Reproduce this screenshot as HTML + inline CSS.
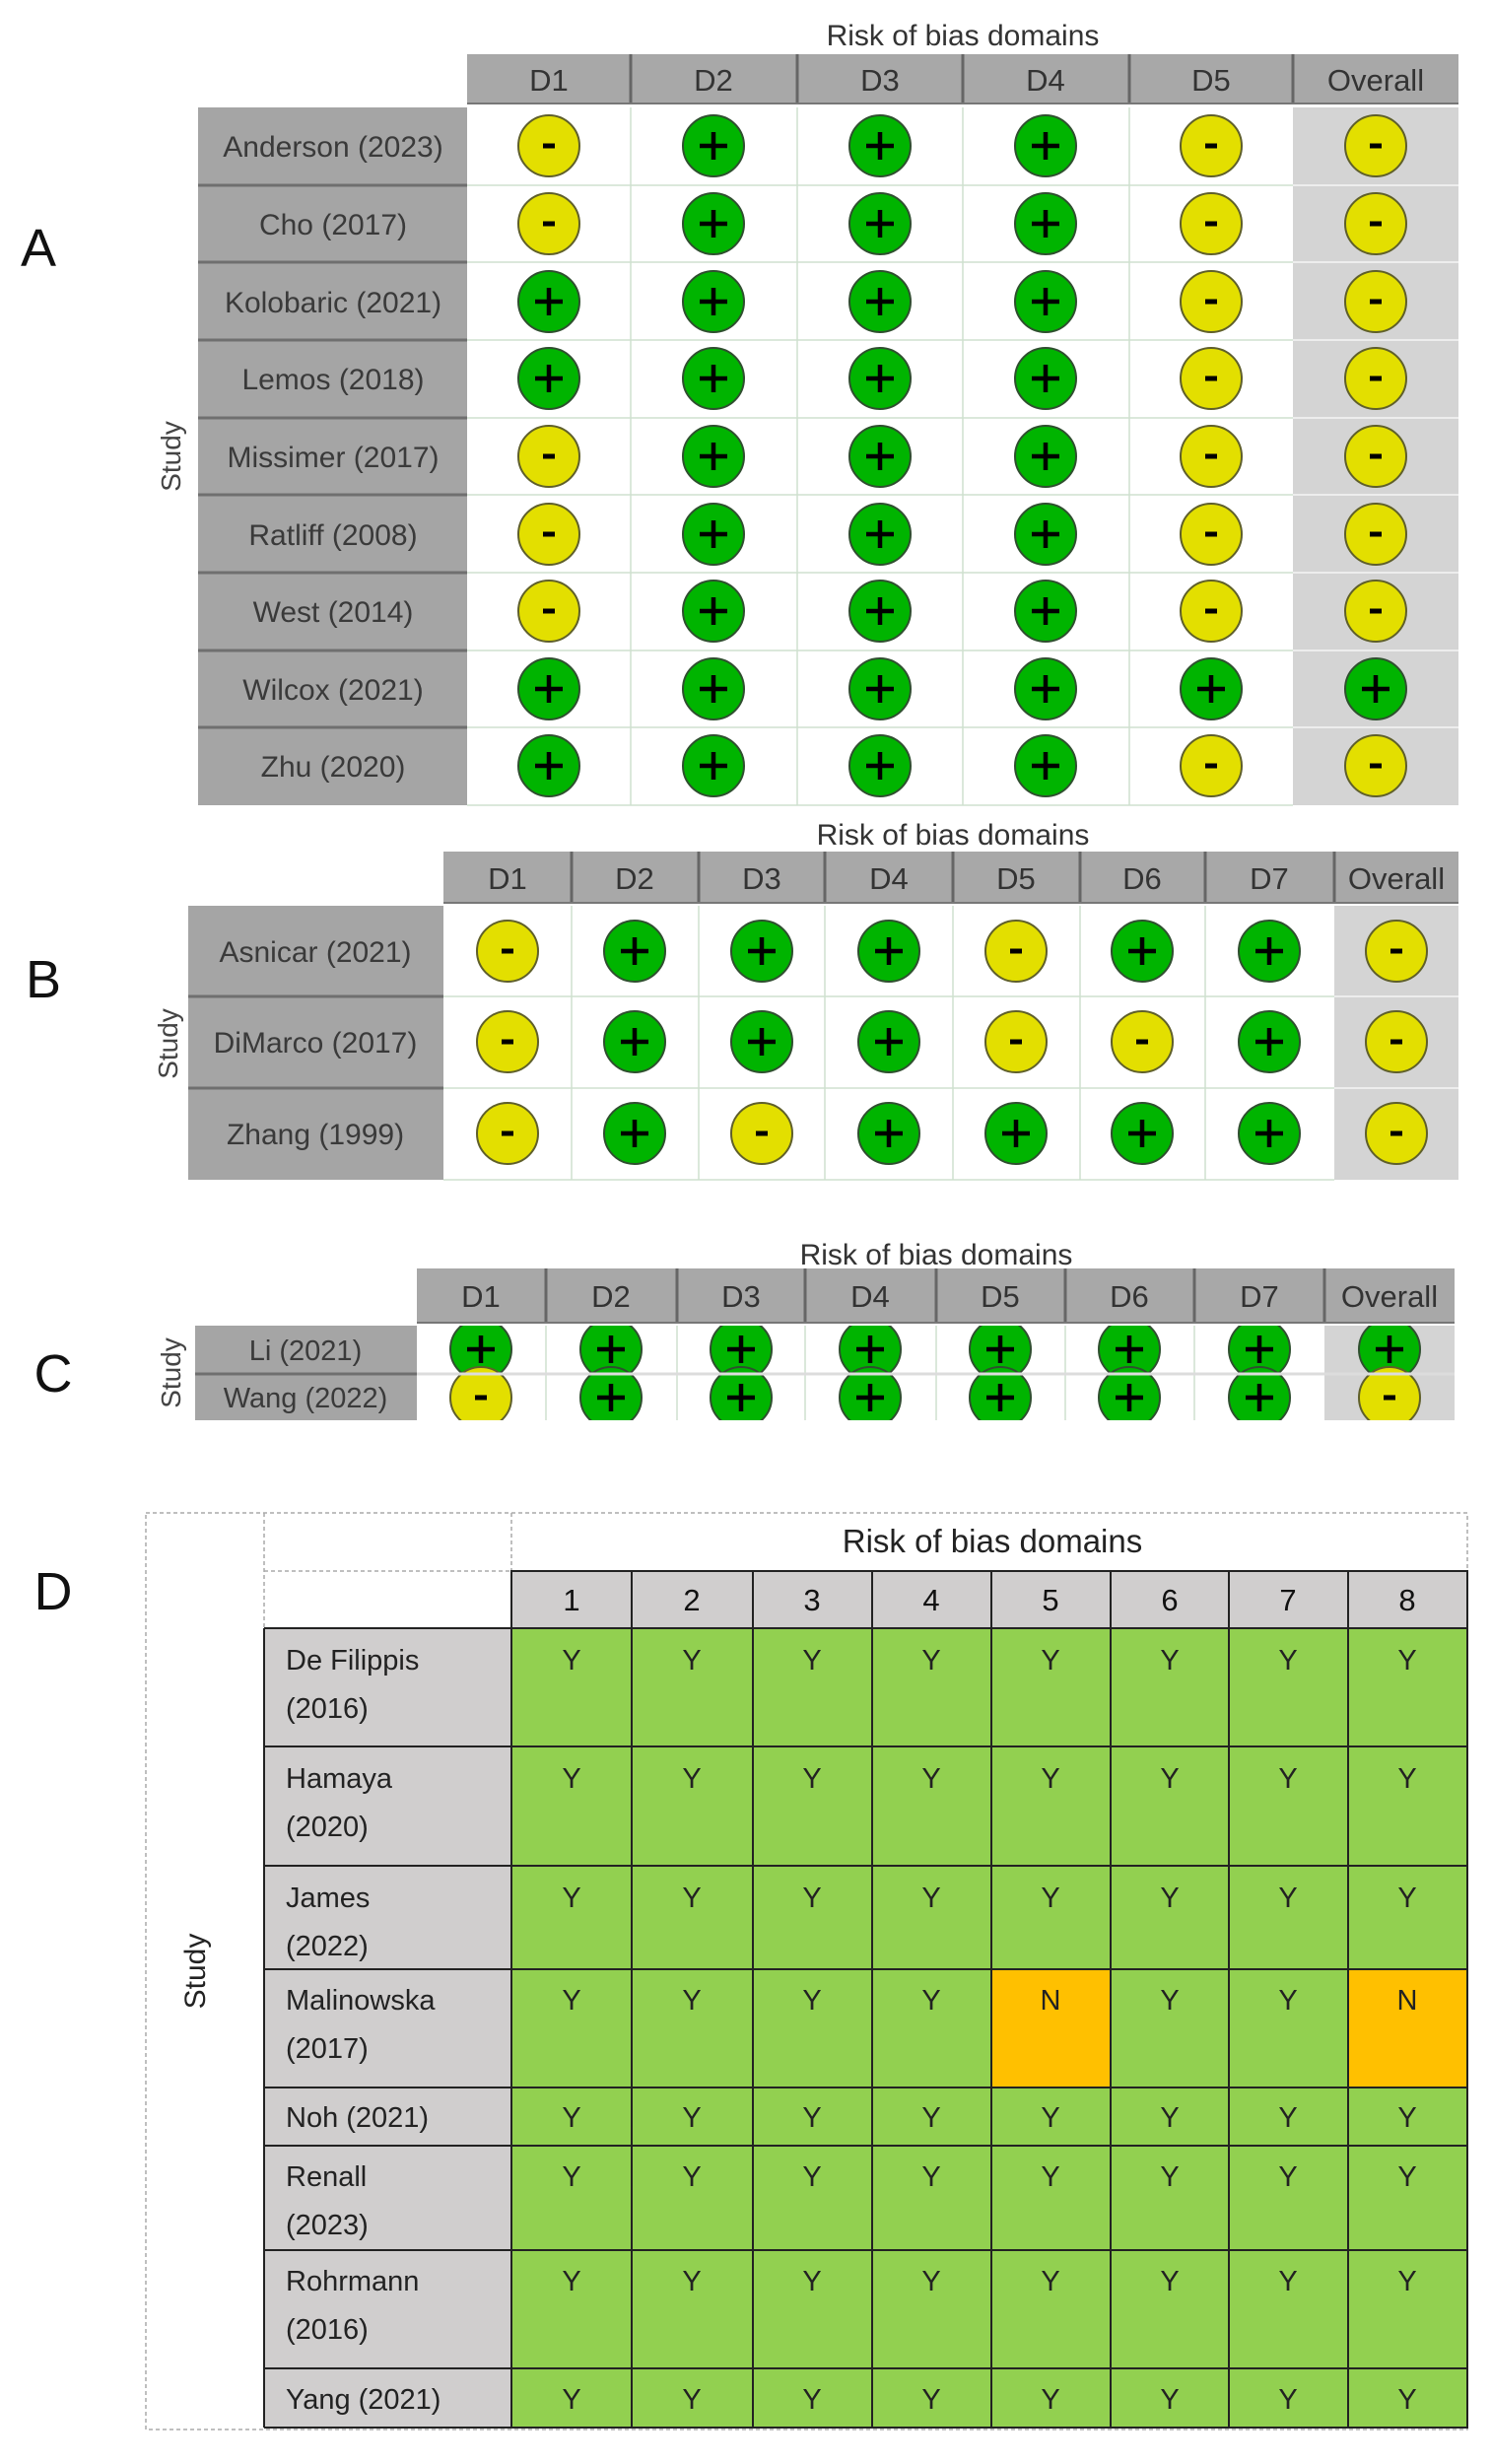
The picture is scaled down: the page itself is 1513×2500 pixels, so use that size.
<!DOCTYPE html>
<html><head><meta charset="utf-8"><style>html,body{margin:0;padding:0;background:#fff}svg{display:block}</style></head>
<body>
<svg width="1513" height="2500" viewBox="0 0 1513 2500" xmlns="http://www.w3.org/2000/svg" font-family="Liberation Sans, sans-serif">
<defs>
<g id="p"><circle r="31" fill="#00b400" stroke="#2f4f2f" stroke-width="2"/><path d="M-14 0H14M0-14V14" stroke="#000" stroke-width="4.5"/></g>
<g id="m"><circle r="31" fill="#e3df00" stroke="#5f5f2a" stroke-width="2"/><path d="M-6 0H6" stroke="#000" stroke-width="5"/></g>
<clipPath id="cc"><rect x="423" y="1345" width="1055" height="96"/></clipPath>
</defs>

<!-- Panel letters -->
<g font-size="54" fill="#111">
<text x="39" y="270" text-anchor="middle">A</text>
<text x="44" y="1012" text-anchor="middle">B</text>
<text x="54" y="1412" text-anchor="middle">C</text>
<text x="54" y="1633" text-anchor="middle">D</text>
</g>

<!-- ============ PANEL A ============ -->
<text x="977" y="46" font-size="30" fill="#333" text-anchor="middle">Risk of bias domains</text>
<rect x="474" y="55" width="1006" height="51" fill="#a8a8a8"/>
<g stroke="#666" stroke-width="3"><path d="M640 55V106M809 55V106M977 55V106M1146 55V106M1312 55V106"/></g>
<rect x="474" y="104" width="1006" height="2" fill="#777"/>
<g font-size="31" fill="#333" text-anchor="middle">
<text x="557" y="92">D1</text><text x="724" y="92">D2</text><text x="893" y="92">D3</text><text x="1061" y="92">D4</text><text x="1229" y="92">D5</text><text x="1396" y="92">Overall</text>
</g>
<rect x="1312" y="109" width="168" height="708" fill="#d4d4d4"/>
<g stroke="#cfe0cf" stroke-width="1.5"><path d="M640 109V817M809 109V817M977 109V817M1146 109V817M474 188H1312M474 266H1312M474 345H1312M474 424H1312M474 502H1312M474 581H1312M474 660H1312M474 738H1312M474 817H1312"/></g>
<g stroke="#ededed" stroke-width="2"><path d="M1312 188H1480M1312 266H1480M1312 345H1480M1312 424H1480M1312 502H1480M1312 581H1480M1312 660H1480M1312 738H1480"/></g>
<rect x="201" y="109" width="273" height="708" fill="#a5a5a5"/>
<g stroke="#6f6f6f" stroke-width="3"><path d="M201 188H474M201 266H474M201 345H474M201 424H474M201 502H474M201 581H474M201 660H474M201 738H474"/></g>
<g font-size="30" fill="#3a3a3a" text-anchor="middle">
<text x="338" y="159">Anderson (2023)</text>
<text x="338" y="238">Cho (2017)</text>
<text x="338" y="317">Kolobaric (2021)</text>
<text x="338" y="395">Lemos (2018)</text>
<text x="338" y="474">Missimer (2017)</text>
<text x="338" y="553">Ratliff (2008)</text>
<text x="338" y="631">West (2014)</text>
<text x="338" y="710">Wilcox (2021)</text>
<text x="338" y="788">Zhu (2020)</text>
</g>
<text transform="translate(183,463) rotate(-90)" font-size="28" fill="#444" text-anchor="middle">Study</text>
<!-- rows A: cols 557,724,893,1061,1229,1396 -->
<use href="#m" x="557" y="148"/><use href="#p" x="724" y="148"/><use href="#p" x="893" y="148"/><use href="#p" x="1061" y="148"/><use href="#m" x="1229" y="148"/><use href="#m" x="1396" y="148"/>
<use href="#m" x="557" y="227"/><use href="#p" x="724" y="227"/><use href="#p" x="893" y="227"/><use href="#p" x="1061" y="227"/><use href="#m" x="1229" y="227"/><use href="#m" x="1396" y="227"/>
<use href="#p" x="557" y="306"/><use href="#p" x="724" y="306"/><use href="#p" x="893" y="306"/><use href="#p" x="1061" y="306"/><use href="#m" x="1229" y="306"/><use href="#m" x="1396" y="306"/>
<use href="#p" x="557" y="384"/><use href="#p" x="724" y="384"/><use href="#p" x="893" y="384"/><use href="#p" x="1061" y="384"/><use href="#m" x="1229" y="384"/><use href="#m" x="1396" y="384"/>
<use href="#m" x="557" y="463"/><use href="#p" x="724" y="463"/><use href="#p" x="893" y="463"/><use href="#p" x="1061" y="463"/><use href="#m" x="1229" y="463"/><use href="#m" x="1396" y="463"/>
<use href="#m" x="557" y="542"/><use href="#p" x="724" y="542"/><use href="#p" x="893" y="542"/><use href="#p" x="1061" y="542"/><use href="#m" x="1229" y="542"/><use href="#m" x="1396" y="542"/>
<use href="#m" x="557" y="620"/><use href="#p" x="724" y="620"/><use href="#p" x="893" y="620"/><use href="#p" x="1061" y="620"/><use href="#m" x="1229" y="620"/><use href="#m" x="1396" y="620"/>
<use href="#p" x="557" y="699"/><use href="#p" x="724" y="699"/><use href="#p" x="893" y="699"/><use href="#p" x="1061" y="699"/><use href="#p" x="1229" y="699"/><use href="#p" x="1396" y="699"/>
<use href="#p" x="557" y="777"/><use href="#p" x="724" y="777"/><use href="#p" x="893" y="777"/><use href="#p" x="1061" y="777"/><use href="#m" x="1229" y="777"/><use href="#m" x="1396" y="777"/>

<!-- ============ PANEL B ============ -->
<text x="967" y="857" font-size="30" fill="#333" text-anchor="middle">Risk of bias domains</text>
<rect x="450" y="864" width="1030" height="53" fill="#a8a8a8"/>
<g stroke="#666" stroke-width="3"><path d="M580 864V917M709 864V917M837 864V917M967 864V917M1096 864V917M1223 864V917M1354 864V917"/></g>
<rect x="450" y="915" width="1030" height="2" fill="#777"/>
<g font-size="31" fill="#333" text-anchor="middle">
<text x="515" y="902">D1</text><text x="644" y="902">D2</text><text x="773" y="902">D3</text><text x="902" y="902">D4</text><text x="1031" y="902">D5</text><text x="1159" y="902">D6</text><text x="1288" y="902">D7</text><text x="1417" y="902">Overall</text>
</g>
<rect x="1354" y="919" width="126" height="278" fill="#d4d4d4"/>
<g stroke="#cfe0cf" stroke-width="1.5"><path d="M580 919V1197M709 919V1197M837 919V1197M967 919V1197M1096 919V1197M1223 919V1197M450 1011H1354M450 1104H1354M450 1197H1354"/></g>
<g stroke="#ededed" stroke-width="2"><path d="M1354 1011H1480M1354 1104H1480"/></g>
<rect x="191" y="919" width="259" height="278" fill="#a5a5a5"/>
<g stroke="#6f6f6f" stroke-width="3"><path d="M191 1011H450M191 1104H450"/></g>
<g font-size="30" fill="#3a3a3a" text-anchor="middle">
<text x="320" y="976">Asnicar (2021)</text>
<text x="320" y="1068">DiMarco (2017)</text>
<text x="320" y="1161">Zhang (1999)</text>
</g>
<text transform="translate(180,1059) rotate(-90)" font-size="28" fill="#444" text-anchor="middle">Study</text>
<use href="#m" x="515" y="965"/><use href="#p" x="644" y="965"/><use href="#p" x="773" y="965"/><use href="#p" x="902" y="965"/><use href="#m" x="1031" y="965"/><use href="#p" x="1159" y="965"/><use href="#p" x="1288" y="965"/><use href="#m" x="1417" y="965"/>
<use href="#m" x="515" y="1057"/><use href="#p" x="644" y="1057"/><use href="#p" x="773" y="1057"/><use href="#p" x="902" y="1057"/><use href="#m" x="1031" y="1057"/><use href="#m" x="1159" y="1057"/><use href="#p" x="1288" y="1057"/><use href="#m" x="1417" y="1057"/>
<use href="#m" x="515" y="1150"/><use href="#p" x="644" y="1150"/><use href="#m" x="773" y="1150"/><use href="#p" x="902" y="1150"/><use href="#p" x="1031" y="1150"/><use href="#p" x="1159" y="1150"/><use href="#p" x="1288" y="1150"/><use href="#m" x="1417" y="1150"/>

<!-- ============ PANEL C ============ -->
<text x="950" y="1283" font-size="30" fill="#333" text-anchor="middle">Risk of bias domains</text>
<rect x="423" y="1287" width="1053" height="56" fill="#a8a8a8"/>
<g stroke="#666" stroke-width="3"><path d="M554 1287V1343M687 1287V1343M817 1287V1343M950 1287V1343M1081 1287V1343M1212 1287V1343M1344 1287V1343"/></g>
<rect x="423" y="1341" width="1053" height="2" fill="#777"/>
<g font-size="31" fill="#333" text-anchor="middle">
<text x="488" y="1326">D1</text><text x="620" y="1326">D2</text><text x="752" y="1326">D3</text><text x="883" y="1326">D4</text><text x="1015" y="1326">D5</text><text x="1146" y="1326">D6</text><text x="1278" y="1326">D7</text><text x="1410" y="1326">Overall</text>
</g>
<rect x="1344" y="1345" width="132" height="96" fill="#d4d4d4"/>
<g stroke="#cfe0cf" stroke-width="1.5"><path d="M554 1345V1441M687 1345V1441M817 1345V1441M950 1345V1441M1081 1345V1441M1212 1345V1441"/></g>
<rect x="198" y="1345" width="225" height="96" fill="#a5a5a5"/>
<g stroke="#6f6f6f" stroke-width="3"><path d="M198 1394H423"/></g>
<g font-size="29" fill="#3a3a3a" text-anchor="middle">
<text x="310" y="1380">Li (2021)</text>
<text x="310" y="1428">Wang (2022)</text>
</g>
<text transform="translate(183,1393) rotate(-90)" font-size="28" fill="#444" text-anchor="middle">Study</text>
<g clip-path="url(#cc)">
<use href="#p" x="488" y="1369"/><use href="#p" x="620" y="1369"/><use href="#p" x="752" y="1369"/><use href="#p" x="883" y="1369"/><use href="#p" x="1015" y="1369"/><use href="#p" x="1146" y="1369"/><use href="#p" x="1278" y="1369"/><use href="#p" x="1410" y="1369"/>
<use href="#m" x="488" y="1418"/><use href="#p" x="620" y="1418"/><use href="#p" x="752" y="1418"/><use href="#p" x="883" y="1418"/><use href="#p" x="1015" y="1418"/><use href="#p" x="1146" y="1418"/><use href="#p" x="1278" y="1418"/><use href="#m" x="1410" y="1418"/>
<path d="M423 1394H1476" stroke="#dcdcdc" stroke-width="3"/>
</g>

<!-- ============ PANEL D ============ -->
<g fill="none" stroke="#aaa" stroke-width="1.5" stroke-dasharray="4 3">
<rect x="148" y="1535" width="1341" height="930"/>
<path d="M268 1535V2465M268 1594H519M519 1535V1594"/>
</g>
<text x="1007" y="1575" font-size="33" fill="#222" text-anchor="middle">Risk of bias domains</text>
<rect x="519" y="1594" width="970" height="58" fill="#d0cece"/>
<g font-size="31" fill="#111" text-anchor="middle">
<text x="580" y="1634">1</text><text x="702" y="1634">2</text><text x="824" y="1634">3</text><text x="945" y="1634">4</text><text x="1066" y="1634">5</text><text x="1187" y="1634">6</text><text x="1307" y="1634">7</text><text x="1428" y="1634">8</text>
</g>
<rect x="519" y="1652" width="970" height="811" fill="#92d050"/>
<rect x="1006" y="1998" width="121" height="120" fill="#ffc000"/>
<rect x="1368" y="1998" width="121" height="120" fill="#ffc000"/>
<rect x="268" y="1652" width="251" height="811" fill="#d0cece"/>
<g stroke="#222" stroke-width="2" fill="none">
<rect x="519" y="1594" width="970" height="869"/>
<path d="M641 1594V2463M764 1594V2463M885 1594V2463M1006 1594V2463M1127 1594V2463M1247 1594V2463M1368 1594V2463"/>
<path d="M268 1652H1489M268 1772H1489M268 1893H1489M268 1998H1489M268 2118H1489M268 2177H1489M268 2283H1489M268 2403H1489M268 2463H1489M268 1652V2463"/>
</g>
<g font-size="29" fill="#222">
<text x="290" y="1694">De Filippis</text><text x="290" y="1743">(2016)</text>
<text x="290" y="1814">Hamaya</text><text x="290" y="1863">(2020)</text>
<text x="290" y="1935">James</text><text x="290" y="1984">(2022)</text>
<text x="290" y="2039">Malinowska</text><text x="290" y="2088">(2017)</text>
<text x="290" y="2158">Noh (2021)</text>
<text x="290" y="2218">Renall</text><text x="290" y="2267">(2023)</text>
<text x="290" y="2324">Rohrmann</text><text x="290" y="2373">(2016)</text>
<text x="290" y="2444">Yang (2021)</text>
</g>
<text transform="translate(208,2000) rotate(-90)" font-size="30" fill="#222" text-anchor="middle">Study</text>
<g font-size="29" fill="#222" text-anchor="middle">
<g transform="translate(0,1694)"><text x="580">Y</text><text x="702">Y</text><text x="824">Y</text><text x="945">Y</text><text x="1066">Y</text><text x="1187">Y</text><text x="1307">Y</text><text x="1428">Y</text></g>
<g transform="translate(0,1814)"><text x="580">Y</text><text x="702">Y</text><text x="824">Y</text><text x="945">Y</text><text x="1066">Y</text><text x="1187">Y</text><text x="1307">Y</text><text x="1428">Y</text></g>
<g transform="translate(0,1935)"><text x="580">Y</text><text x="702">Y</text><text x="824">Y</text><text x="945">Y</text><text x="1066">Y</text><text x="1187">Y</text><text x="1307">Y</text><text x="1428">Y</text></g>
<g transform="translate(0,2039)"><text x="580">Y</text><text x="702">Y</text><text x="824">Y</text><text x="945">Y</text><text x="1066">N</text><text x="1187">Y</text><text x="1307">Y</text><text x="1428">N</text></g>
<g transform="translate(0,2158)"><text x="580">Y</text><text x="702">Y</text><text x="824">Y</text><text x="945">Y</text><text x="1066">Y</text><text x="1187">Y</text><text x="1307">Y</text><text x="1428">Y</text></g>
<g transform="translate(0,2218)"><text x="580">Y</text><text x="702">Y</text><text x="824">Y</text><text x="945">Y</text><text x="1066">Y</text><text x="1187">Y</text><text x="1307">Y</text><text x="1428">Y</text></g>
<g transform="translate(0,2324)"><text x="580">Y</text><text x="702">Y</text><text x="824">Y</text><text x="945">Y</text><text x="1066">Y</text><text x="1187">Y</text><text x="1307">Y</text><text x="1428">Y</text></g>
<g transform="translate(0,2444)"><text x="580">Y</text><text x="702">Y</text><text x="824">Y</text><text x="945">Y</text><text x="1066">Y</text><text x="1187">Y</text><text x="1307">Y</text><text x="1428">Y</text></g>
</g>
</svg>
</body></html>
